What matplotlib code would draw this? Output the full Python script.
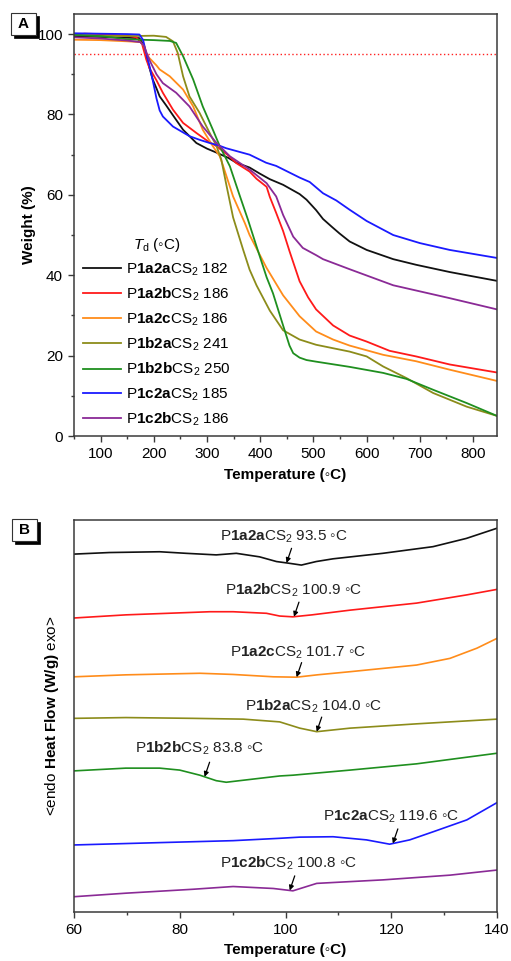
import numpy as np
import matplotlib
matplotlib.use('Agg')
import matplotlib.pyplot as plt
from matplotlib.ticker import MultipleLocator, NullLocator
from matplotlib.patches import Rectangle
from matplotlib.lines import Line2D

plt.rcParams['font.family'] = ['Liberation Sans', 'DejaVu Sans']
plt.rcParams['mathtext.fontset'] = 'custom'
plt.rcParams['mathtext.rm'] = 'Liberation Sans'
plt.rcParams['mathtext.it'] = 'Liberation Sans:italic'
plt.rcParams['mathtext.bf'] = 'Liberation Sans:bold'
plt.rcParams['font.size'] = 11

# ---------------- DATA: panel A (TGA) ----------------
names = ['1a2a', '1a2b', '1a2c', '1b2a', '1b2b', '1c2a', '1c2b']
td_values = [182, 186, 186, 241, 250, 185, 186]
colors = ['#111111', '#ff1a1a', '#ff8c1a', '#8c8c1a', '#1f8f1f', '#1a1aff', '#8a2a96']

tga_black_x = [50, 100, 150, 173, 180, 186, 192, 198, 205, 211, 223, 236, 255, 280, 300, 318, 340, 355, 380, 399, 418, 443, 474, 487, 505, 518, 535, 549, 568, 600, 650, 693, 756, 845]
tga_black_y = [99.5, 99.3, 99.1, 99.0, 97.5, 94.6, 91.5, 88.7, 86.5, 84.5, 82.3, 79.8, 76.2, 72.9, 71.5, 70.5, 69.2, 68.0, 66.8, 65.3, 63.9, 62.5, 60.2, 58.8, 56.2, 54.0, 52.0, 50.4, 48.4, 46.3, 44.0, 42.6, 40.8, 38.6]

tga_red_x = [50, 70, 100, 150, 167, 178, 186, 192, 205, 217, 236, 255, 280, 300, 318, 340, 355, 380, 393, 412, 418, 430, 443, 455, 474, 490, 505, 537, 568, 600, 643, 693, 756, 845]
tga_red_y = [99.8, 100.1, 100.0, 99.6, 99.2, 97.5, 93.6, 91.5, 88.5, 85.4, 81.2, 77.9, 75.4, 73.5, 72.1, 69.8, 67.9, 65.8, 64.0, 62.0, 59.5, 55.5, 51.0, 46.0, 38.5, 34.5, 31.5, 27.5, 25.0, 23.5, 21.2, 19.8, 17.8, 15.8]

tga_orange_x = [50, 100, 150, 175, 182, 186, 192, 205, 211, 230, 255, 274, 292, 311, 324, 330, 349, 371, 380, 412, 443, 474, 505, 537, 568, 631, 693, 756, 845]
tga_orange_y = [98.6, 98.5, 98.2, 98.0, 97.0, 95.0, 94.0, 92.2, 91.2, 89.5, 86.2, 82.0, 76.2, 72.1, 69.6, 67.3, 59.6, 53.0, 50.0, 41.8, 35.0, 29.8, 26.0, 24.0, 22.5, 20.2, 18.6, 16.5, 13.7]

tga_olive_x = [50, 100, 150, 200, 223, 236, 245, 255, 267, 286, 305, 318, 327, 336, 349, 368, 380, 393, 418, 443, 474, 505, 568, 600, 631, 675, 725, 788, 845]
tga_olive_y = [99.8, 99.6, 99.5, 99.6, 99.3, 98.2, 95.3, 89.5, 84.5, 80.4, 75.4, 72.1, 68.7, 62.7, 54.4, 46.3, 41.4, 37.5, 31.2, 26.3, 24.0, 22.7, 21.0, 19.8, 17.3, 14.4, 10.7, 7.3, 5.0]

tga_green_x = [50, 100, 150, 200, 230, 242, 255, 274, 292, 311, 324, 343, 361, 377, 393, 412, 424, 443, 455, 462, 474, 487, 505, 568, 631, 675, 725, 788, 845]
tga_green_y = [99.8, 99.5, 98.7, 98.5, 98.3, 97.8, 94.5, 88.7, 82.0, 76.2, 72.1, 67.1, 60.0, 53.8, 47.2, 39.5, 35.5, 27.5, 22.5, 20.6, 19.5, 18.9, 18.5, 17.2, 15.7, 14.2, 11.5, 8.2, 5.0]

tga_blue_x = [50, 100, 150, 173, 180, 186, 192, 198, 205, 211, 217, 236, 267, 286, 305, 324, 336, 380, 411, 430, 474, 493, 518, 543, 568, 600, 650, 700, 756, 845]
tga_blue_y = [100.2, 100.1, 100.0, 99.9, 98.5, 95.0, 92.0, 88.5, 84.0, 81.0, 79.5, 77.0, 74.6, 73.7, 72.9, 72.2, 71.6, 70.0, 68.0, 67.2, 64.3, 63.2, 60.4, 58.6, 56.3, 53.5, 50.0, 48.0, 46.3, 44.3]

tga_purple_x = [50, 100, 150, 175, 182, 186, 192, 205, 217, 242, 267, 292, 318, 343, 380, 412, 430, 443, 462, 480, 505, 518, 568, 650, 756, 845]
tga_purple_y = [99.2, 98.9, 98.4, 98.0, 97.0, 95.5, 93.5, 90.0, 87.8, 85.4, 82.0, 77.0, 72.9, 69.6, 66.3, 62.9, 59.6, 55.0, 49.6, 46.8, 45.0, 44.0, 41.5, 37.5, 34.3, 31.5]

td_threshold = 95

# ---------------- DATA: panel B (DSC, offset curves, a.u.) ----------------
dsc_black_x = [60, 66.7, 76.2, 81.2, 86.9, 90.7, 95.1, 98.3, 100.5, 103, 105.8, 109, 118.4, 127.9, 134.2, 140]
dsc_black_y = [91.3, 91.7, 91.9, 91.5, 91.1, 91.5, 90.6, 89.4, 89.0, 88.5, 89.4, 90.1, 91.5, 93.2, 95.3, 97.9]

dsc_red_x = [60, 69.8, 85.7, 90.1, 96.4, 98.9, 101.4, 105, 112.2, 124.8, 134.3, 140]
dsc_red_y = [75.0, 75.8, 76.6, 76.6, 76.2, 75.5, 75.3, 75.8, 77.0, 78.8, 80.9, 82.3]

dsc_orange_x = [60, 69.8, 83.8, 90.1, 97.7, 102.1, 106, 112.2, 124.8, 131.1, 136.2, 140]
dsc_orange_y = [60.0, 60.5, 60.9, 60.6, 60.0, 59.9, 60.5, 61.3, 63.0, 64.7, 67.3, 69.8]

dsc_olive_x = [60, 69.8, 82.5, 92, 98.9, 102.7, 105.9, 112.2, 124.8, 140]
dsc_olive_y = [49.4, 49.6, 49.4, 49.2, 48.5, 46.9, 46.0, 46.9, 48.0, 49.2]

dsc_green_x = [60, 69.8, 76.2, 80, 83.8, 86.9, 88.8, 91.3, 95.1, 98.9, 101.4, 112.2, 124.8, 140]
dsc_green_y = [36.0, 36.7, 36.7, 36.2, 34.9, 33.5, 33.1, 33.5, 34.1, 34.7, 34.9, 36.2, 37.8, 40.5]

dsc_blue_x = [60, 76.2, 90.1, 98.9, 102.7, 109, 115.3, 119.7, 123.5, 128, 134.3, 140]
dsc_blue_y = [17.1, 17.7, 18.2, 18.8, 19.1, 19.2, 18.4, 17.3, 18.4, 20.5, 23.5, 27.9]

dsc_purple_x = [60, 69.8, 82.5, 90.1, 97.7, 101.4, 105.9, 118.5, 131.1, 140]
dsc_purple_y = [3.9, 4.8, 5.8, 6.5, 6.0, 5.4, 7.3, 8.2, 9.4, 10.7]

tg_values = ['93.5', '100.9', '101.7', '104.0', '83.8', '119.6', '100.8']
arrow_tip_x = [100.2, 101.6, 102.1, 105.9, 84.7, 120.3, 100.8]

tga_x = [tga_black_x, tga_red_x, tga_orange_x, tga_olive_x, tga_green_x, tga_blue_x, tga_purple_x]
tga_y = [tga_black_y, tga_red_y, tga_orange_y, tga_olive_y, tga_green_y, tga_blue_y, tga_purple_y]
dsc_x = [dsc_black_x, dsc_red_x, dsc_orange_x, dsc_olive_x, dsc_green_x, dsc_blue_x, dsc_purple_x]
dsc_y = [dsc_black_y, dsc_red_y, dsc_orange_y, dsc_olive_y, dsc_green_y, dsc_blue_y, dsc_purple_y]

# layout of DSC labels (left edge x, centre y), in data units
label_pos = [(87.6, 95.7), (88.5, 82.1), (89.5, 66.1), (92.3, 52.4), (71.5, 41.8), (107.1, 24.3), (87.6, 12.4)]

W, H = 511, 961
fig = plt.figure(figsize=(W / 100, H / 100), dpi=100)
axA = fig.add_axes([74 / W, 1 - 436 / H, 423 / W, 422 / H])
axB = fig.add_axes([74 / W, 1 - 912 / H, 423 / W, 392 / H])

spine_c = '#3a3a3a'
for ax in (axA, axB):
    for s in ax.spines.values():
        s.set_color(spine_c)
        s.set_linewidth(1.1)
    ax.tick_params(which='both', direction='out', top=False, right=False, color=spine_c, width=1.0)
    ax.tick_params(which='major', length=4.5, labelsize=11)
    ax.tick_params(which='minor', length=2.5)

def lab(n):
    return r'P$\mathbf{' + n + r'}$CS$_2$'

# Panel A
for i in range(7):
    axA.plot(tga_x[i], tga_y[i], color=colors[i], lw=1.3, solid_joinstyle='round')
axA.axhline(td_threshold, color='#ff2020', lw=1.0, ls=(0, (1, 1.8)))
axA.set_xlim(50, 845)
axA.set_ylim(0, 105)
axA.xaxis.set_major_locator(MultipleLocator(100))
axA.xaxis.set_minor_locator(MultipleLocator(50))
axA.yaxis.set_major_locator(MultipleLocator(20))
axA.yaxis.set_minor_locator(MultipleLocator(10))
axA.set_xlabel('Temperature (◦C)', fontweight='bold', fontsize=11)
axA.set_ylabel('Weight (%)', fontweight='bold', fontsize=11)
axA.xaxis.set_label_coords(0.5, -0.075)
axA.yaxis.set_label_coords(-0.09, 0.5)

handles = [Line2D([], [], color=colors[i], lw=1.3) for i in range(7)]
labels = [lab(names[i]) + ' ' + str(td_values[i]) for i in range(7)]
leg = axA.legend(handles, labels, title=r'$T_{\mathrm{d}}$ (◦C)', loc='upper left',
                 bbox_to_anchor=(0.021, 0.475), frameon=False, fontsize=11,
                 title_fontsize=11, handlelength=2.5, handletextpad=0.35,
                 labelspacing=0.52, borderpad=0, borderaxespad=0)

# Panel B
for i in range(7):
    axB.plot(dsc_x[i], dsc_y[i], color=colors[i], lw=1.2, solid_joinstyle='round')
    tx = arrow_tip_x[i]
    ty = float(np.interp(tx, dsc_x[i], dsc_y[i]))
    axB.annotate('', xy=(tx, ty), xytext=(3.6, 10.5), textcoords='offset points',
                 arrowprops=dict(arrowstyle='-|>', color='black', lw=0.9,
                                 mutation_scale=7, shrinkA=0, shrinkB=0))
    lx, ly = label_pos[i]
    axB.text(lx, ly, lab(names[i]) + ' ' + tg_values[i] + ' ◦C', ha='left', va='center',
             fontsize=11, color='#222222')
axB.set_xlim(60, 140)
axB.set_ylim(0, 100)
axB.xaxis.set_major_locator(MultipleLocator(20))
axB.xaxis.set_minor_locator(MultipleLocator(10))
axB.yaxis.set_major_locator(NullLocator())
axB.yaxis.set_minor_locator(NullLocator())
axB.set_xlabel('Temperature (◦C)', fontweight='bold', fontsize=11)
axB.set_ylabel(r'<endo $\mathbf{Heat\ Flow\ (W/g)}$ exo>', fontsize=11)
axB.xaxis.set_label_coords(0.5, -0.08)
axB.yaxis.set_label_coords(-0.03, 0.5)

# panel letters
def panel_letter(x0, y0, letter):
    w, h, off = 25, 22, 3
    fig.patches.append(Rectangle(((x0 + off) / W, 1 - (y0 + h + off) / H), w / W, h / H,
                                 transform=fig.transFigure, fc='black', ec='black', lw=0.5))
    fig.patches.append(Rectangle((x0 / W, 1 - (y0 + h) / H), w / W, h / H,
                                 transform=fig.transFigure, fc='white', ec='#333333', lw=0.8))
    fig.text((x0 + w / 2) / W, 1 - (y0 + h / 2) / H, letter, ha='center', va='center',
             fontweight='bold', fontsize=11)

panel_letter(11, 13, 'A')
panel_letter(12, 519, 'B')

fig.savefig('out.png', dpi=100)
